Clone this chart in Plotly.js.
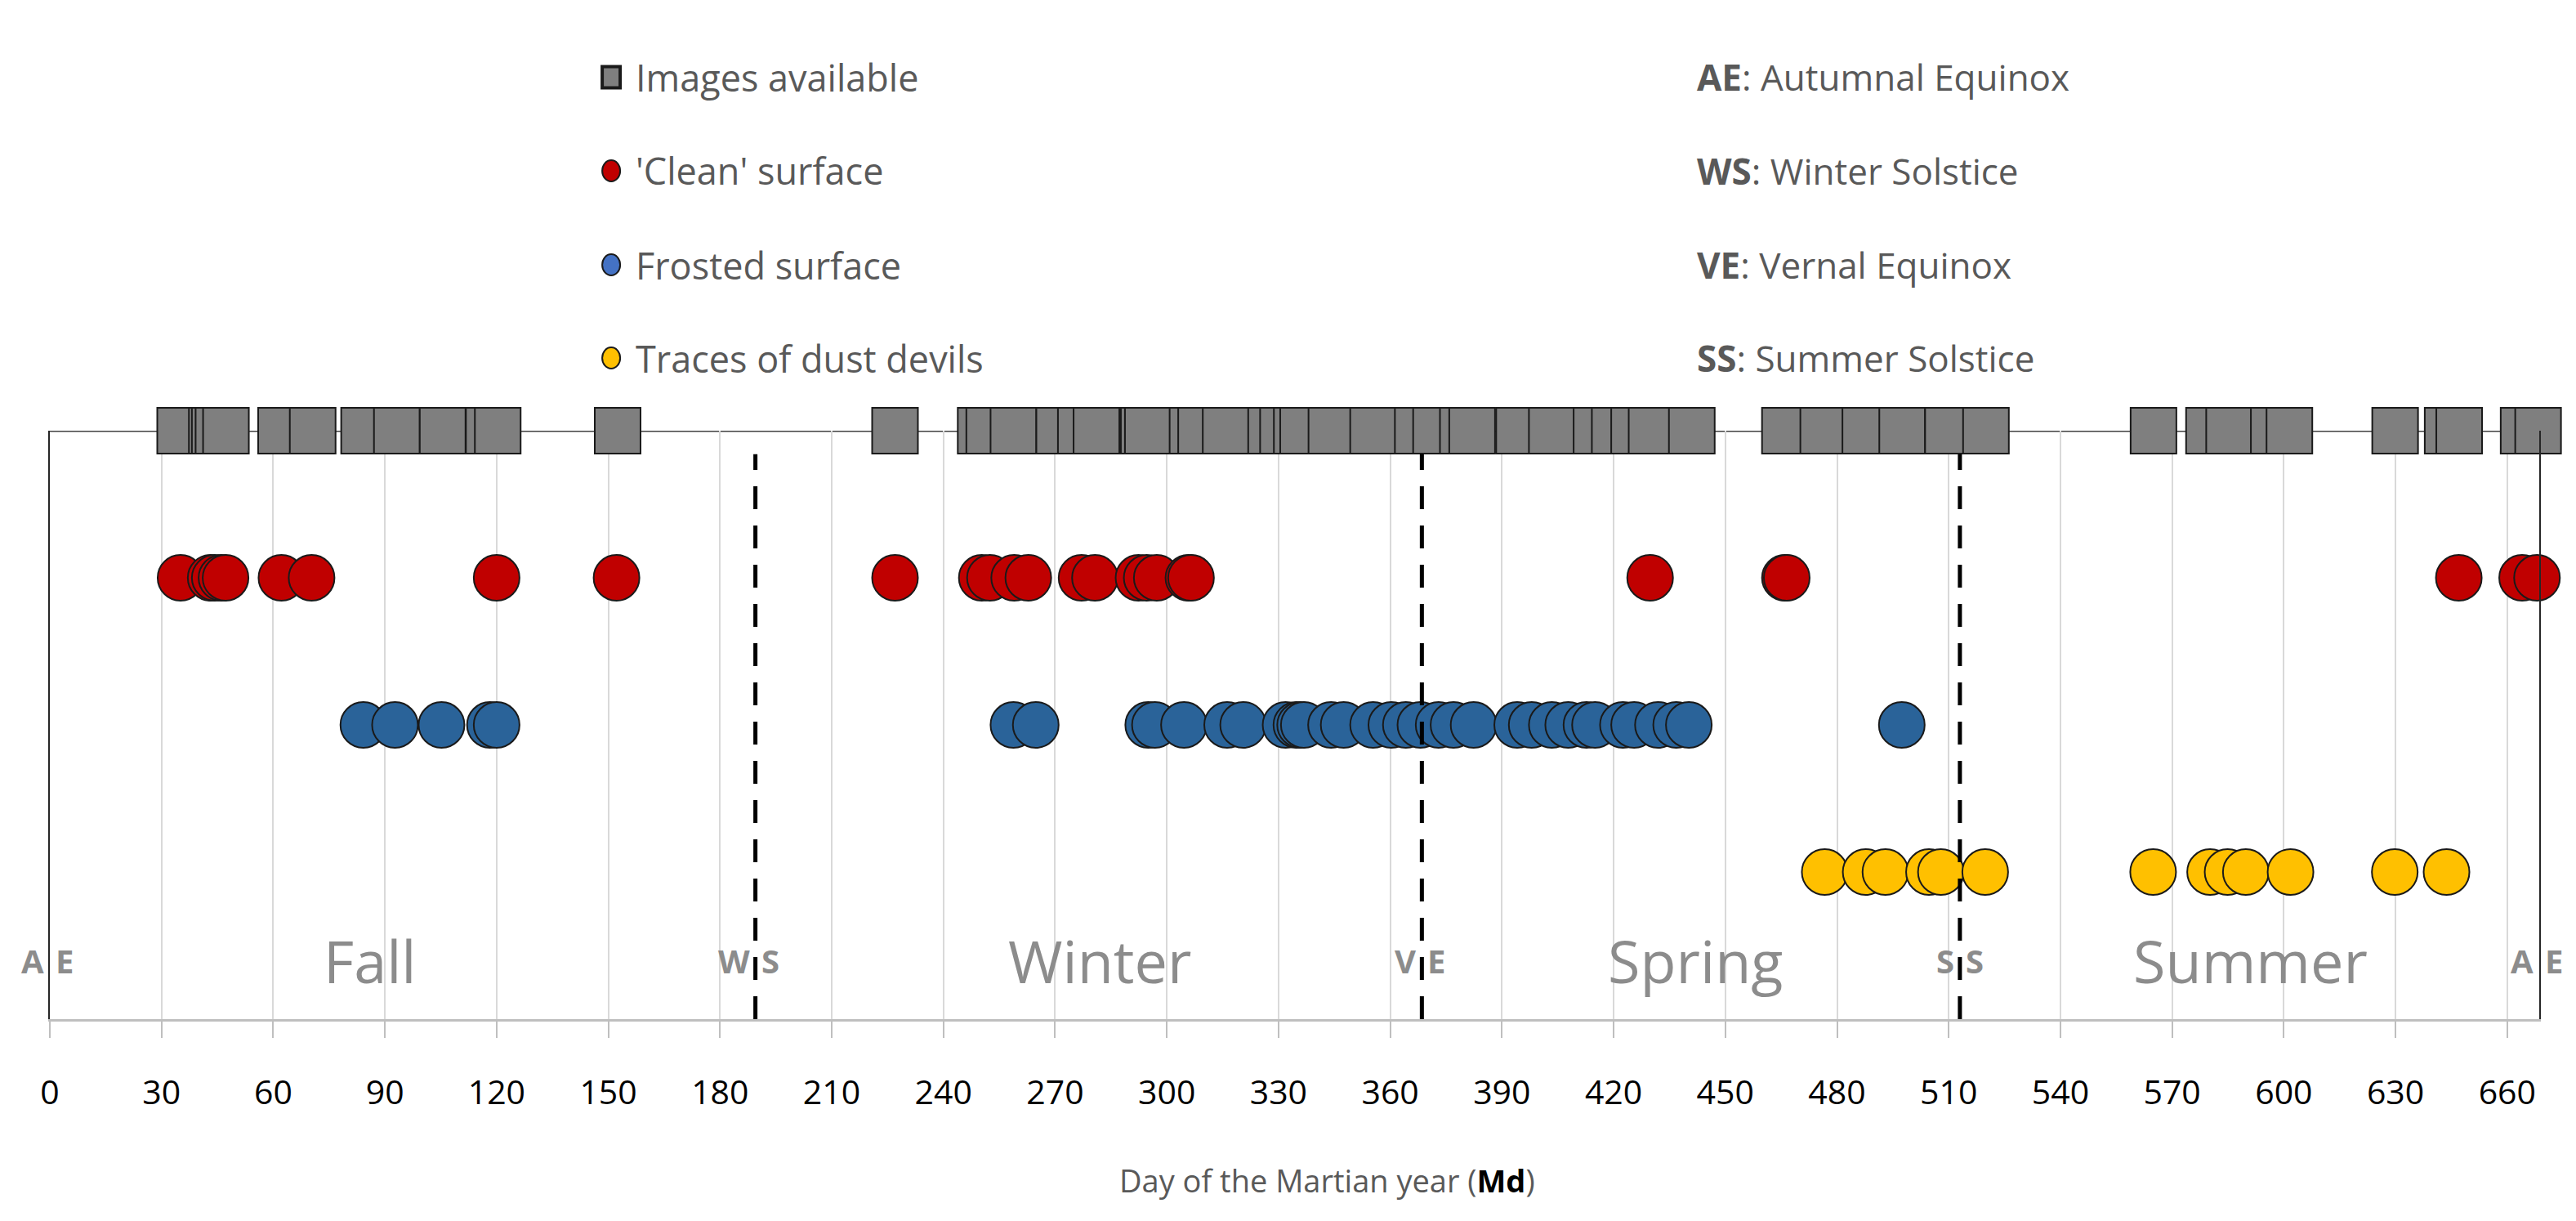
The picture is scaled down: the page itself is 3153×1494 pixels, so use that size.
<!DOCTYPE html>
<html>
<head>
<meta charset="utf-8">
<script src="https://cdn.plot.ly/plotly-3.0.1.min.js"></script>
<style>
  html, body { margin: 0; padding: 0; background: #fff; }
  #chart { width: 3153px; height: 1494px; }
</style>
</head>
<body>
<div id="chart"></div>
<script>
// day of the Martian year (Md) for each observation
const imageDays = [35.0, 43.5, 44.3, 45.3, 47.3, 62.1, 70.6, 84.4, 93.2, 105.5, 117.9, 120.3,
  152.5, 227.0, 250.0, 252.3, 258.8, 271.1, 276.9, 281.1, 293.8, 294.9, 306.9, 309.2,
  315.8, 328.0, 331.2, 334.9, 336.6, 344.2, 355.4, 367.4, 372.3, 379.5, 382.0, 394.6,
  403.4, 415.4, 420.3, 425.5, 430.2, 441.0, 466.0, 476.3, 487.6, 497.5, 509.8, 520.0,
  565.0, 579.9, 585.3, 597.3, 601.5, 629.9, 644.0, 647.1, 664.4, 668.3];
const cleanDays = [35.1, 43.2, 44.3, 46.1, 47.2, 62.2, 70.3, 120.0, 152.2, 227.0,
  250.3, 252.5, 259.0, 262.8, 277.1, 280.7, 292.4, 294.6, 297.3, 305.8, 306.5,
  429.8, 466.0, 466.5, 647.0, 664.0, 668.0];
const frostDays = [84.2, 92.7, 105.2, 118.2, 120.0, 258.8, 264.8, 295.0, 296.8, 304.6,
  316.2, 320.5, 331.9, 334.8, 335.8, 336.8, 344.1, 347.5, 355.4, 360.3, 364.2, 368.1,
  373.0, 377.0, 382.4, 394.1, 398.0, 403.4, 407.8, 412.7, 415.0, 422.5, 425.5, 431.9,
  436.8, 440.2, 497.4];
const dustDays = [476.7, 487.7, 493.0, 504.7, 507.9, 519.8, 564.9, 580.2, 584.9, 589.8,
  601.8, 629.8, 643.7];

const rowY = {images: 4, clean: 3, frost: 2, dust: 1};

const seasonNames = ['Fall', 'Winter', 'Spring', 'Summer'];
const seasonCenters = [86, 282, 442, 591];

const markerNames = ['AE', 'WS', 'VE', 'SS', 'AE'];
const markerDays = [0, 189.5, 368.5, 513, 668.6];

const legendNames = ['Images available', "'Clean' surface", 'Frosted surface', 'Traces of dust devils'];
const legendColors = ['#7f7f7f', '#c00000', '#4472c4', '#ffc000'];
const keyAbbr = ['AE', 'WS', 'VE', 'SS'];
const keyText = ['Autumnal Equinox', 'Winter Solstice', 'Vernal Equinox', 'Summer Solstice'];

const yearLength = 668.6;
const FONT = 'Open Sans, sans-serif';

const row = (days, y, color, symbol) => ({
  x: days,
  y: days.map(() => y),
  type: 'scatter',
  mode: 'markers',
  cliponaxis: false,
  hoverinfo: 'x',
  showlegend: false,
  marker: {
    symbol: symbol,
    size: 56,
    color: color,
    line: {color: '#1a1a1a', width: 2}
  }
});

const data = [
  row(imageDays, rowY.images, '#7f7f7f', 'square'),
  row(cleanDays, rowY.clean, '#c00000', 'circle'),
  row(frostDays, rowY.frost, '#2a6399', 'circle'),
  row(dustDays, rowY.dust, '#ffc000', 'circle')
];

const shapes = [];
// line behind the image squares
shapes.push({
  type: 'line', xref: 'x', yref: 'y', x0: 0, x1: yearLength, y0: 4, y1: 4,
  line: {color: '#404040', width: 3}, layer: 'below'
});
// solstice / equinox dashed lines
[189.5, 368.5, 513].forEach(d => {
  shapes.push({
    type: 'line', xref: 'x', yref: 'y', x0: d, x1: d, y0: 0, y1: 3.84,
    line: {color: '#000', width: 5, dash: '28px,20px'}, layer: 'above'
  });
});

const annotations = [];
seasonNames.forEach((name, i) => {
  annotations.push({
    x: seasonCenters[i], y: 0.4, xref: 'x', yref: 'y', text: name, showarrow: false,
    font: {family: FONT, size: 72, color: '#8c8c8c'}
  });
});
markerNames.forEach((name, i) => {
  annotations.push({
    x: markerDays[i], y: 0.4, xref: 'x', yref: 'y', text: '<b>' + name[0] + '</b>',
    showarrow: false, xanchor: 'right', xshift: -5,
    font: {family: FONT, size: 40, color: '#8c8c8c'}
  });
  annotations.push({
    x: markerDays[i], y: 0.4, xref: 'x', yref: 'y', text: '<b>' + name[1] + '</b>',
    showarrow: false, xanchor: 'left', xshift: 5,
    font: {family: FONT, size: 40, color: '#8c8c8c'}
  });
});

// hand made legend above the plot
const legendY = [1.6007, 1.4417, 1.2819, 1.1236];
legendNames.forEach((name, i) => {
  shapes.push({
    type: i === 0 ? 'rect' : 'circle', xref: 'paper', yref: 'paper',
    xsizemode: 'pixel', ysizemode: 'pixel', xanchor: 0.2255, yanchor: legendY[i],
    x0: -11, x1: 11, y0: -13, y1: 13,
    fillcolor: legendColors[i], line: {color: '#1a1a1a', width: i === 0 ? 4 : 2}
  });
  annotations.push({
    x: 0.2345, y: legendY[i], xref: 'paper', yref: 'paper', text: name,
    showarrow: false, xanchor: 'left', yanchor: 'middle',
    font: {family: FONT, size: 45, color: '#595959'}
  });
});
keyAbbr.forEach((abbr, i) => {
  annotations.push({
    x: 0.661, y: legendY[i], xref: 'paper', yref: 'paper',
    text: '<b>' + abbr + '</b>: ' + keyText[i],
    showarrow: false, xanchor: 'left', yanchor: 'middle',
    font: {family: FONT, size: 44, color: '#595959'}
  });
});

// axis title
annotations.push({
  x: 0.513, y: -0.274, xref: 'paper', yref: 'paper',
  text: 'Day of the Martian year (<b style="color:#000">Md</b>)',
  showarrow: false, xanchor: 'center', yanchor: 'middle',
  font: {family: FONT, size: 38, color: '#595959'}
});

const layout = {
  width: 3153,
  height: 1494,
  margin: {l: 61, r: 45, t: 527, b: 247},
  paper_bgcolor: '#fff',
  plot_bgcolor: '#fff',
  showlegend: false,
  font: {family: FONT},
  xaxis: {
    range: [0, yearLength],
    tick0: 0,
    dtick: 30,
    showgrid: true,
    gridcolor: '#d9d9d9',
    gridwidth: 2,
    zeroline: false,
    showline: true,
    linecolor: '#bfbfbf',
    linewidth: 3,
    ticks: 'outside',
    ticklen: 20,
    tickwidth: 2,
    tickcolor: '#bfbfbf',
    ticklabelstandoff: 32,
    tickfont: {family: FONT, size: 41, color: '#000'}
  },
  yaxis: {
    range: [0, 4],
    showgrid: false,
    zeroline: false,
    showticklabels: false,
    showline: true,
    mirror: true,
    linecolor: '#262626',
    linewidth: 2,
    ticks: ''
  },
  shapes: shapes,
  annotations: annotations
};

Plotly.newPlot('chart', data, layout, {displayModeBar: false, staticPlot: true});
</script>
</body>
</html>
